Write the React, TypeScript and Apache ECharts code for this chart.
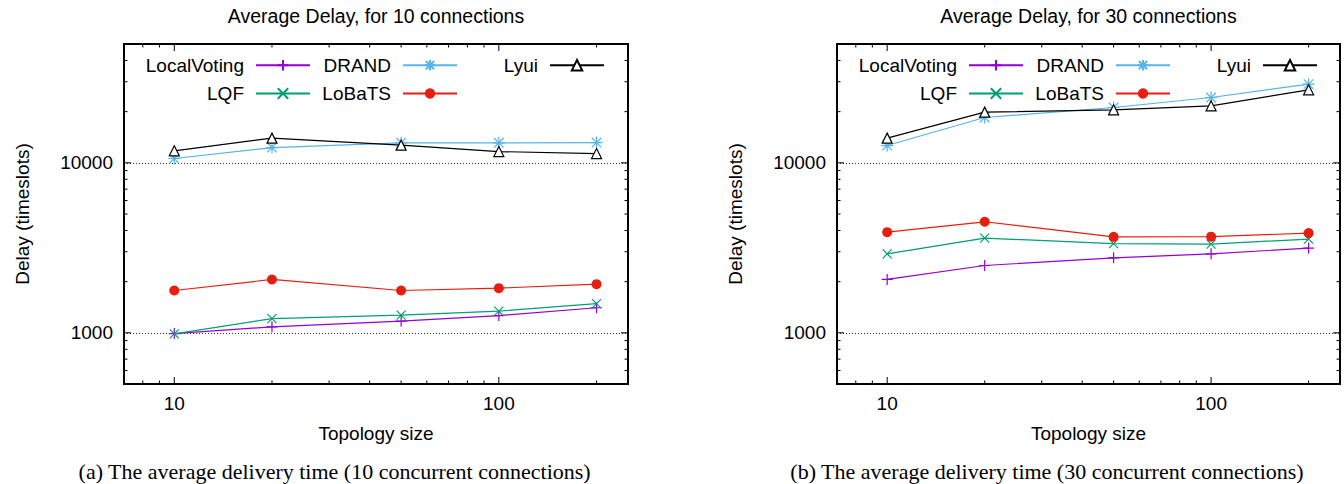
import React, { useEffect, useRef } from 'react';
import * as echarts from 'echarts';

const sizes = [10, 20, 50, 100, 200];
const titles = ['Average Delay, for 10 connections', 'Average Delay, for 30 connections'];
const captions = [
  '(a) The average delivery time (10 concurrent connections)',
  '(b) The average delivery time (30 concurrent connections)',
];
const xName = 'Topology size';
const yName = 'Delay (timeslots)';
const seriesNames = ['LocalVoting', 'LQF', 'DRAND', 'LoBaTS', 'Lyui'];

const localVoting10 = [990, 1085, 1172, 1264, 1404];
const lqf10 = [985, 1213, 1271, 1342, 1486];
const drand10 = [10600, 12300, 13110, 13110, 13160];
const lobats10 = [1774, 2060, 1774, 1832, 1933];
const lyui10 = [11770, 13970, 12700, 11650, 11340];

const localVoting30 = [2060, 2489, 2761, 2915, 3150];
const lqf30 = [2915, 3605, 3350, 3325, 3560];
const drand30 = [12640, 18480, 21150, 24220, 29030];
const lobats30 = [3910, 4500, 3670, 3680, 3860];
const lyui30 = [13970, 19870, 20500, 21640, 26870];

const xMajorTicks = [10, 100];
const xMinorTicks = [8, 9, 20, 30, 40, 50, 60, 70, 80, 90, 200];
const yMajorTicks = [1000, 10000];
const yMinorTicks = [600, 700, 800, 900, 2000, 3000, 4000, 5000, 6000, 7000, 8000, 9000, 20000, 30000, 40000];

const X_MIN = 7;
const X_MAX = 250;
const Y_MIN = 500;
const Y_MAX = 50000;

const panels = [
  { left: 124, top: 44, width: 504, height: 340, data: [localVoting10, lqf10, drand10, lobats10, lyui10] },
  { left: 837, top: 44, width: 503, height: 340, data: [localVoting30, lqf30, drand30, lobats30, lyui30] },
];

const SANS = '"Liberation Sans", Arial, Helvetica, sans-serif';
const SERIF = '"Liberation Serif", "Times New Roman", serif';

const styles: Record<string, any> = {
  LocalVoting: { color: '#9400d3', symbol: 'path://M5,0V10M0,5H10', size: 11, fill: '#9400d3' },
  LQF: { color: '#009e73', symbol: 'path://M0,0L10,10M10,0L0,10', size: 9, fill: '#009e73' },
  DRAND: { color: '#56b4e9', symbol: 'path://M5,0V10M0,5H10M1,1L9,9M9,1L1,9', size: 12, fill: '#56b4e9' },
  LoBaTS: { color: '#e51e10', symbol: 'circle', size: 10, fill: '#e51e10' },
  Lyui: { color: '#000000', symbol: 'path://M5,0L10,9L0,9Z', size: 10, fill: '#ffffff' },
};

// legend layout: [name, sample end x (left panel), row]
const legendLayout: [string, number, number][] = [
  ['LocalVoting', 311, 0],
  ['LQF', 311, 1],
  ['DRAND', 458, 0],
  ['LoBaTS', 458, 1],
  ['Lyui', 605, 0],
];
const legendRowY = [66.7, 95];

export default function App() {
  const ref = useRef<HTMLDivElement>(null);
  useEffect(() => {
    if (!ref.current) return;
    const chart = echarts.init(ref.current, undefined, { renderer: 'svg' });

    const tickData: number[][] = [];
    xMajorTicks.forEach((v) => tickData.push([v, 1000, 0, 1]));
    xMinorTicks.forEach((v) => tickData.push([v, 1000, 0, 0]));
    yMajorTicks.forEach((v) => tickData.push([10, v, 1, 1]));
    yMinorTicks.forEach((v) => tickData.push([10, v, 1, 0]));

    const isIn = (v: number, arr: number[]) => arr.some((t) => Math.abs(t - v) / t < 1e-6);

    const series: any[] = [];
    panels.forEach((p, g) => {
      seriesNames.forEach((name, si) => {
        const st = styles[name];
        series.push({
          type: 'line',
          name,
          xAxisIndex: g,
          yAxisIndex: g,
          data: sizes.map((x, i) => [x, p.data[si][i]]),
          symbol: st.symbol,
          symbolSize: st.size,
          showSymbol: true,
          lineStyle: { color: st.color, width: 1.2 },
          itemStyle: { color: st.fill, borderColor: st.color, borderWidth: name === 'LoBaTS' ? 0 : 1.2 },
          emphasis: { disabled: true },
          z: 10 + si,
        });
      });
      series.push({
        type: 'custom',
        xAxisIndex: g,
        yAxisIndex: g,
        silent: true,
        z: 5,
        data: tickData,
        encode: { x: 0, y: 1 },
        renderItem: (params: any, api: any) => {
          const cs = params.coordSys;
          const isX = api.value(2) === 0;
          const len = api.value(3) ? 7 : 3.5;
          const st = { stroke: '#000', lineWidth: 1 };
          if (isX) {
            const px = api.coord([api.value(0), 1000])[0];
            return {
              type: 'group',
              children: [
                { type: 'line', shape: { x1: px, y1: cs.y + cs.height, x2: px, y2: cs.y + cs.height - len }, style: st },
                { type: 'line', shape: { x1: px, y1: cs.y, x2: px, y2: cs.y + len }, style: st },
              ],
            };
          }
          const py = api.coord([10, api.value(1)])[1];
          return {
            type: 'group',
            children: [
              { type: 'line', shape: { x1: cs.x, y1: py, x2: cs.x + len, y2: py }, style: st },
              { type: 'line', shape: { x1: cs.x + cs.width, y1: py, x2: cs.x + cs.width - len, y2: py }, style: st },
            ],
          };
        },
      });
    });

    const legends: any[] = [];
    panels.forEach((p, g) => {
      const off = p.left - panels[0].left;
      legendLayout.forEach(([name, endX, row]) => {
        legends.push({
          data: [name],
          orient: 'horizontal',
          align: 'right',
          right: 1344 - (endX + off),
          top: legendRowY[row] - 11,
          itemWidth: 54,
          itemHeight: 13,
          padding: 0,
          selectedMode: false,
          textStyle: { fontSize: 19, fontFamily: SANS, color: '#000', padding: [0, 7, 0, 0] },
        });
      });
    });

    const graphic: any[] = [];
    panels.forEach((p, g) => {
      const cx = p.left + p.width / 2;
      graphic.push({
        type: 'rect',
        z: 100,
        shape: { x: p.left, y: p.top, width: p.width, height: p.height },
        style: { fill: 'none', stroke: '#000', lineWidth: 2 },
      });
      graphic.push({
        type: 'text', z: 100, x: cx, y: 16,
        style: { text: titles[g], fontSize: 19.5, fontFamily: SANS, fill: '#000', align: 'center', verticalAlign: 'middle' },
      });
      graphic.push({
        type: 'text', z: 100, x: cx, y: 433,
        style: { text: xName, fontSize: 19, fontFamily: SANS, fill: '#000', align: 'center', verticalAlign: 'middle' },
      });
      graphic.push({
        type: 'text', z: 100, x: p.left - 102, y: p.top + p.height / 2, rotation: Math.PI / 2,
        style: { text: yName, fontSize: 19, fontFamily: SANS, fill: '#000', align: 'center', verticalAlign: 'middle' },
      });
      graphic.push({
        type: 'text', z: 100, x: g === 0 ? 334.6 : 1047, y: 471,
        style: { text: captions[g], fontSize: 22, fontFamily: SERIF, fill: '#000', align: 'center', verticalAlign: 'middle' },
      });
    });

    chart.setOption({
      animation: false,
      backgroundColor: '#ffffff',
      grid: panels.map((p) => ({ left: p.left, top: p.top, width: p.width, height: p.height, containLabel: false })),
      xAxis: panels.map((p, g) => ({
        type: 'log',
        logBase: 10,
        gridIndex: g,
        min: X_MIN,
        max: X_MAX,
        axisLine: { show: false },
        axisTick: { show: false },
        splitLine: { show: false },
        axisLabel: {
          margin: 10,
          fontSize: 19,
          fontFamily: SANS,
          color: '#000',
          showMinLabel: false,
          showMaxLabel: false,
          formatter: (v: number) => (isIn(v, xMajorTicks) ? String(Math.round(v)) : ''),
        },
      })),
      yAxis: panels.map((p, g) => ({
        type: 'log',
        logBase: 10,
        gridIndex: g,
        min: Y_MIN,
        max: Y_MAX,
        axisLine: { show: false },
        axisTick: { show: false },
        splitLine: { show: true, lineStyle: { color: '#333', width: 1, type: [1, 2] } },
        axisLabel: {
          margin: 11,
          fontSize: 19,
          fontFamily: SANS,
          color: '#000',
          showMinLabel: false,
          showMaxLabel: false,
          formatter: (v: number) => (isIn(v, yMajorTicks) ? String(Math.round(v)) : ''),
        },
      })),
      legend: legends,
      series,
      graphic,
    });

    return () => chart.dispose();
  }, []);

  return <div ref={ref} style={{ position: 'fixed', left: 0, top: 0, width: 1344, height: 484 }} />;
}
